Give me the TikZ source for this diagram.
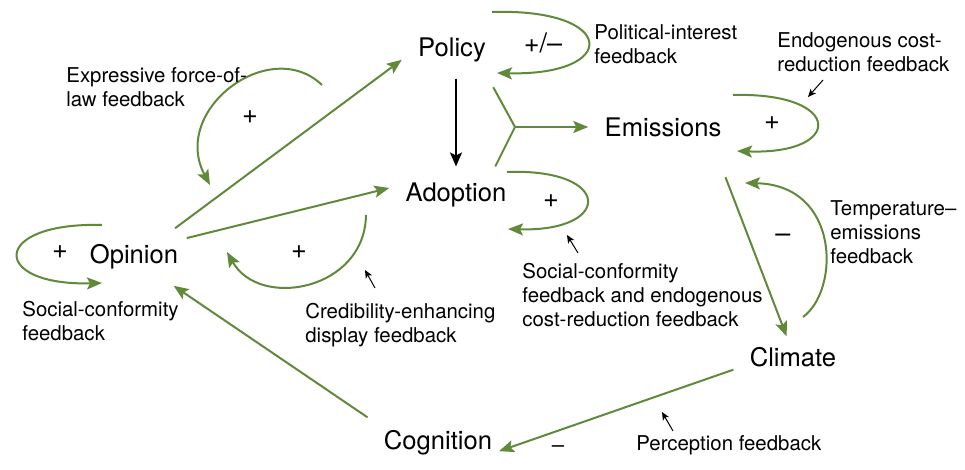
\documentclass[tikz,border=0pt]{standalone}
\usepackage{fontspec}
\setmainfont{TeX Gyre Heros}
\usepackage{tikz}
\usetikzlibrary{arrows.meta}
\definecolor{fbgreen}{RGB}{96,138,58}
\tikzstyle{var}=[inner sep=8pt,font=\fontsize{12.8}{15}\selectfont]
\tikzstyle{lbl}=[anchor=north west,inner sep=0pt,align=left,font=\fontsize{10.2}{12}\selectfont]
\tikzstyle{sgn}=[inner sep=0pt,font=\fontsize{13.5}{15}\selectfont]
\tikzstyle{fbhead}=[>/.tip={Stealth[length=7.5pt,width=6pt,inset=1.5pt]}]
\tikzstyle{fb}=[line width=1pt,fbgreen,fbhead,->]
\tikzstyle{cause}=[line width=1pt,black,>/.tip={Stealth[length=7pt,width=6pt,inset=1.5pt]},->]
\tikzstyle{ptr}=[line width=.5pt,black,>/.tip={Stealth[length=4pt,width=3.5pt,inset=1pt]},->]

\begin{document}
\begin{tikzpicture}[x=.5pt,y=-.5pt]
	\useasboundingbox (0,0) rectangle (965,470);
	% variables
	\node[var] (pol) at (452,50)  {Policy};
	\node[var] (adp) at (456,195) {Adoption};
	\node[var] (ems) at (663,127) {Emissions};
	\node[var] (op)  at (134,257) {Opinion};
	\node[var] (clm) at (793,357) {Climate};
	\node[var] (cog) at (438,443) {Cognition};
	\coordinate (jn) at (515,127);
	% causal links
	\draw[fb] (op.35) -- (pol.191);
	\draw[fb,shorten <=-4pt] (op.19) -- (adp.174);
	\draw[cause] (adp.north |- pol.south) -- (adp.north);
	\draw[fb,-,shorten <=5pt] (pol.-38) -- (jn);
	\draw[fb,-] (adp.36) -- (jn);
	\draw[fb] (jn) -- (ems);
	\draw[fb,shorten <=13pt,shorten >=-3pt] (ems.-26) -- (clm.108);
	\draw[fb,shorten >=-5pt] (clm.192) -- (cog.-4);
	\draw[fb] (cog.160) -- (op.-36);
	% feedback loops
	\coordinate (pl-a) at (492,12);  \coordinate (pl-b) at (497,73);
	\coordinate (el-a) at (733,95);  \coordinate (el-b) at (737,151);
	\coordinate (al-a) at (507,172); \coordinate (al-b) at (508,229);
	\coordinate (ol-a) at (102,225); \coordinate (ol-b) at (102,283);
	\coordinate (fl-a) at (322,85);  \coordinate (fl-b) at (210,185);
	\coordinate (cl-a) at (366,215); \coordinate (cl-b) at (227,252);
	\coordinate (tl-a) at (803,317); \coordinate (tl-b) at (745,183);
	\draw[fb] (pl-a) .. controls (618,8) and (620,76) .. (pl-b);
	\draw[fb] (el-a) .. controls (844,92) and (844,155) .. (el-b);
	\draw[fb] (al-a) .. controls (613,168) and (613,232) .. (al-b);
	\draw[fb] (ol-a) .. controls (-10,222) and (-10,286) .. (ol-b);
	\draw[fb] (fl-a) .. controls (270,35) and (170,110) .. (fl-b);
	\draw[fb] (cl-a) .. controls (365,290) and (260,310) .. (cl-b);
	\draw[fb] (tl-a) .. controls (840,290) and (840,185) .. (tl-b);
	% signs
	\node[sgn] (s-op)  at (60,252)  {+};
	\node[sgn] (s-fl)  at (250,117) {+};
	\node[sgn] (s-cl)  at (299,252) {+};
	\node[sgn] (s-pl)  at (543,43)  {+/–};
	\node[sgn] (s-al)  at (551,201) {+};
	\node[sgn] (s-el)  at (772,123) {+};
	\node[sgn] (s-tl)  at (783,238) {–};
	\node[sgn,font=\fontsize{11}{13}\selectfont] (s-cog) at (558,449) {–};
	% loop names
	\node[lbl] (l-exp)  at (66,67)   {Expressive force-of-\\law feedback};
	\node[lbl] (l-pol)  at (594,24)  {Political-interest\\feedback};
	\node[lbl] (l-end)  at (777,32)  {Endogenous cost-\\reduction feedback};
	\node[lbl] (l-adp)  at (522,263) {Social-conformity\\feedback and endogenous\\cost-reduction feedback};
	\node[lbl] (l-cred) at (305,303) {Credibility-enhancing\\display feedback};
	\node[lbl] (l-tmp)  at (830,200) {Temperature–\\emissions\\feedback};
	\node[lbl] (l-soc)  at (22,301)  {Social-conformity\\feedback};
	\node[lbl] (l-pcp)  at (636,435) {Perception feedback};
	\coordinate (p-end) at (808,97);  \coordinate (t-end) at (823,80);
	\coordinate (p-adp) at (567,235); \coordinate (t-adp) at (578,253);
	\coordinate (p-cred) at (365,270); \coordinate (t-cred) at (375,288);
	\coordinate (p-pcp) at (662,412); \coordinate (t-pcp) at (673,431);
	\draw[ptr] (t-end) -- (p-end);
	\draw[ptr] (t-adp) -- (p-adp);
	\draw[ptr] (t-cred) -- (p-cred);
	\draw[ptr] (t-pcp) -- (p-pcp);
\end{tikzpicture}
\end{document}
